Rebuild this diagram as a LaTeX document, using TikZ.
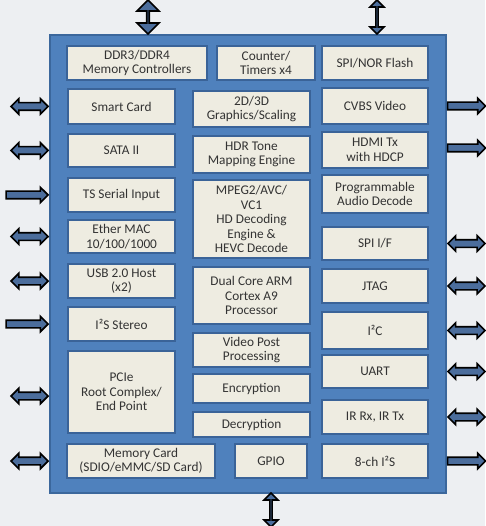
\documentclass[tikz,border=0pt]{standalone}
\usepackage{fontspec}
\setmainfont{Carlito}
\usetikzlibrary{shapes.arrows}

\definecolor{bgcol}{HTML}{EDEFF2}
\definecolor{chipblue}{HTML}{4F81BD}
\definecolor{chipedge}{HTML}{3B679C}
\definecolor{boxfill}{HTML}{EEECE1}
\definecolor{boxedge}{HTML}{3A6398}
\definecolor{arrfill}{HTML}{4B6D9C}
\definecolor{txt}{HTML}{333333}

\begin{document}
\begin{tikzpicture}[x=1pt, y=-1pt,
  blk/.style={draw=boxedge, line width=2pt, fill=boxfill, text=txt, align=center,
    inner sep=0pt, font=\fontsize{13.3}{14.5}\selectfont},
  darr/.style={double arrow, draw=black, line width=1.6pt, fill=arrfill,
    minimum height=37pt, minimum width=14pt, inner xsep=0pt, inner ysep=3pt,
    double arrow head extend=4pt, double arrow tip angle=90},
  sarr/.style={single arrow, draw=black, line width=1.6pt, fill=arrfill,
    minimum height=38pt, minimum width=14pt, inner xsep=0pt, inner ysep=3pt,
    single arrow head extend=4pt, single arrow tip angle=90}]

\useasboundingbox[fill=bgcol] (0,0) rectangle (485,526);

% chip outline
\node[draw=chipedge, line width=1.5pt, fill=chipblue, minimum width=396pt,
  minimum height=458pt, inner sep=0pt] (chip) at (248,264) {};

% first row
\node[blk, minimum width=140pt, minimum height=34pt] (ddr) at (137,63) {DDR3/DDR4\\Memory Controllers};
\node[blk, minimum width=98pt, minimum height=34pt] (timer) at (266,63) {Counter/\\Timers x4};
\node[blk, minimum width=106pt, minimum height=34pt] (nor) at (375,63) {SPI/NOR Flash};

% left column
\node[blk, minimum width=107pt, minimum height=35pt] (smart) at (121.5,106.5) {Smart Card};
\node[blk, minimum width=107pt, minimum height=33pt] (sata) at (121.5,150.5) {SATA II};
\node[blk, minimum width=107pt, minimum height=34pt] (ts) at (121.5,195) {TS Serial Input};
\node[blk, minimum width=107pt, minimum height=33pt] (ether) at (121.5,236.5) {Ether MAC\\10/100/1000};
\node[blk, minimum width=107pt, minimum height=34pt] (usb) at (121.5,281) {USB 2.0 Host\\(x2)};
\node[blk, minimum width=107pt, minimum height=34pt] (i2s) at (121.5,324) {I²S Stereo};
\node[blk, minimum width=107pt, minimum height=82pt] (pcie) at (121.5,392) {PCIe\\Root Complex/\\End Point};

% middle column
\node[blk, minimum width=117pt, minimum height=36pt] (gfx) at (251.5,109) {2D/3D\\Graphics/Scaling};
\node[blk, minimum width=117pt, minimum height=37pt] (hdr) at (251.5,154.5) {HDR Tone\\Mapping Engine};
\node[blk, minimum width=117pt, minimum height=78pt] (mpeg) at (251.5,219) {MPEG2/AVC/\\VC1\\HD Decoding\\Engine \&\\HEVC Decode};
\node[blk, minimum width=117pt, minimum height=57pt] (arm) at (251.5,295.5) {Dual Core ARM\\Cortex A9\\Processor};
\node[blk, minimum width=117pt, minimum height=34pt] (vpp) at (251.5,350) {Video Post\\Processing};
\node[blk, minimum width=117pt, minimum height=29pt] (enc) at (251.5,388.5) {Encryption};
\node[blk, minimum width=117pt, minimum height=25pt] (dec) at (251.5,424.5) {Decryption};

% right column
\node[blk, minimum width=106pt, minimum height=36pt] (cvbs) at (375,106) {CVBS Video};
\node[blk, minimum width=106pt, minimum height=36pt] (hdmi) at (375,150) {HDMI Tx\\with HDCP};
\node[blk, minimum width=106pt, minimum height=38pt] (audio) at (375,194) {Programmable\\Audio Decode};
\node[blk, minimum width=106pt, minimum height=33pt] (spi) at (375,243.5) {SPI I/F};
\node[blk, minimum width=106pt, minimum height=34pt] (jtag) at (375,286) {JTAG};
\node[blk, minimum width=106pt, minimum height=37pt] (i2c) at (375,330.5) {I²C};
\node[blk, minimum width=106pt, minimum height=33pt] (uart) at (375,371.5) {UART};
\node[blk, minimum width=106pt, minimum height=34pt] (ir) at (375,417) {IR Rx, IR Tx};

% bottom row
\node[blk, minimum width=148pt, minimum height=34pt] (mmc) at (141,461) {Memory Card\\(SDIO/eMMC/SD Card)};
\node[blk, minimum width=72pt, minimum height=34pt] (gpio) at (271,461) {GPIO};
\node[blk, minimum width=106pt, minimum height=34pt] (i2s8) at (375,461) {8-ch I²S};

% pins on the left
\node[darr, anchor=east] (smartIO) at (chip.west |- smart) {};
\node[darr, anchor=east] (sataIO) at (chip.west |- sata) {};
\node[sarr, minimum height=42pt, anchor=east] (tsIN) at (chip.west |- ts) {};
\node[darr, anchor=east] (etherIO) at (chip.west |- ether) {};
\node[darr, anchor=east] (usbIO) at (chip.west |- usb) {};
\node[sarr, minimum height=42pt, anchor=east] (i2sIN) at (chip.west |- i2s) {};
\node[darr, anchor=east] (pcieIO) at ([yshift=-4pt]chip.west |- pcie) {};
\node[darr, anchor=east] (mmcIO) at (chip.west |- mmc) {};

% pins on the right
\node[sarr, anchor=west] (cvbsOUT) at (chip.east |- cvbs) {};
\node[sarr, anchor=west] (hdmiOUT) at ([yshift=2pt]chip.east |- hdmi) {};
\node[darr, anchor=west] (spiIO) at (chip.east |- spi) {};
\node[darr, anchor=west] (jtagIO) at (chip.east |- jtag) {};
\node[darr, anchor=west] (i2cIO) at (chip.east |- i2c) {};
\node[darr, anchor=west] (uartIO) at (chip.east |- uart) {};
\node[darr, anchor=west] (irIO) at (chip.east |- ir) {};
\node[sarr, anchor=west] (i2s8OUT) at (chip.east |- i2s8) {};

% pins at top and bottom
\node[darr, shape border rotate=90, minimum height=34pt, minimum width=22pt, inner ysep=5pt,
  double arrow head extend=6pt] (ddrIO) at (148,17) {};
\node[darr, shape border rotate=90, minimum height=34pt] (norIO) at (377,17) {};
\node[darr, shape border rotate=90, minimum height=34pt] (gpioIO) at (271,510) {};

\end{tikzpicture}
\end{document}
